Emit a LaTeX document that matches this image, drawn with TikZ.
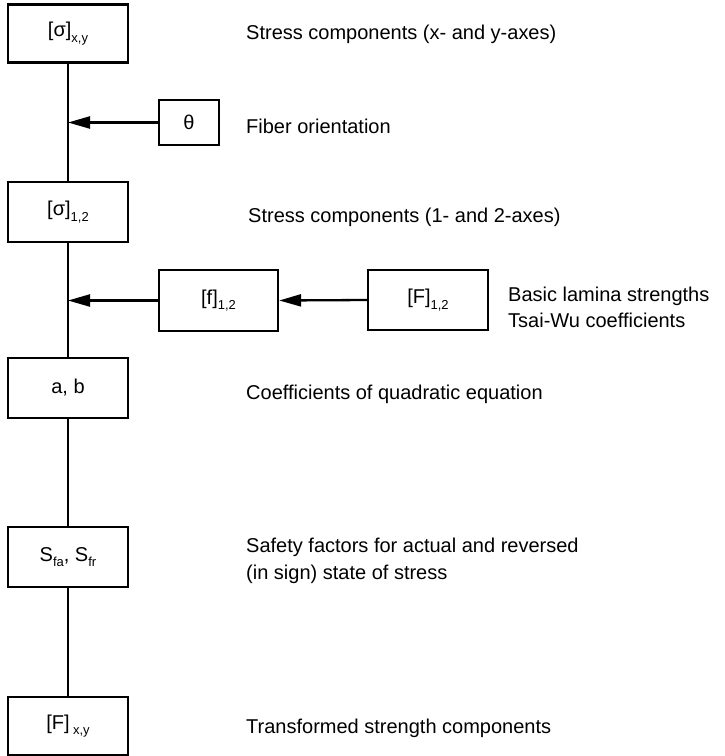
\documentclass[tikz,border=0pt]{standalone}
\usepackage{fontspec}
\setmainfont{Liberation Sans}
\usetikzlibrary{arrows.meta}
% lowered small index used in the box labels
\newcommand{\lowidx}[1]{\raisebox{-0.28em}{\fontsize{13}{13}\selectfont #1}}
\begin{document}
\begin{tikzpicture}[x=1pt,y=-1pt,
  every node/.style={font=\fontsize{20}{24}\selectfont},
  blk/.style={draw,line width=2.3pt,minimum width=120pt,minimum height=60pt,inner sep=0pt},
  link/.style={line width=2.3pt},
  feed/.style={line width=2.3pt,-{Triangle[length=22pt,width=12pt]}},
  note/.style={anchor=base west,inner sep=0pt,align=left}]
\useasboundingbox (0,0) rectangle (724,756);

% main chain of quantities
\node[blk,minimum height=58pt] (sxy) at (68,33.5) {[σ]\lowidx{x,y}};
\node[blk] (s12) at (68,212) {[σ]\lowidx{1,2}};
\node[blk] (ab) at (68,388) {a, b};
\node[blk] (sf) at (68,557) {S\lowidx{fa}, S\lowidx{fr}};
\node[blk,minimum height=58pt] (Fxy) at (68,726) {[F]\,\lowidx{x,y}};

% side inputs
\node[blk,minimum width=60pt,minimum height=45pt] (th) at (189,122.5) {θ};
\node[blk,minimum width=119pt,minimum height=61pt] (f12) at (218.5,300.5) {[f]\lowidx{1,2}};
\node[blk] (F12) at (428,300) {[F]\lowidx{1,2}};

% junctions on the vertical line
\coordinate (j1) at (68,122.5);
\coordinate (j2) at (68,300.5);

\draw[link] (sxy.south) -- (s12.north);
\draw[link] (s12.south) -- (ab.north);
\draw[link] (ab.south) -- (sf.north);
\draw[link] (sf.south) -- (Fxy.north);

\draw[feed] (th.west) -- (j1);
\draw[feed] (f12.west) -- (j2);
\draw[feed] (F12.west) -- (f12.east);

% descriptions
\node[note] (d1) at (246,39) {Stress components (x- and y-axes)};
\node[note] (d2) at (246,133) {Fiber orientation};
\node[note] (d3) at (248,222) {Stress components (1- and 2-axes)};
\node[note] (d4) at (508,301) {Basic lamina strengths};
\node[note] (d5) at (508,327) {Tsai-Wu coefficients};
\node[note] (d6) at (246,399) {Coefficients of quadratic equation};
\node[note] (d7) at (246,552) {Safety factors for actual and reversed};
\node[note] (d8) at (246,579) {(in sign) state of stress};
\node[note] (d9) at (246,733) {Transformed strength components};
\end{tikzpicture}
\end{document}
